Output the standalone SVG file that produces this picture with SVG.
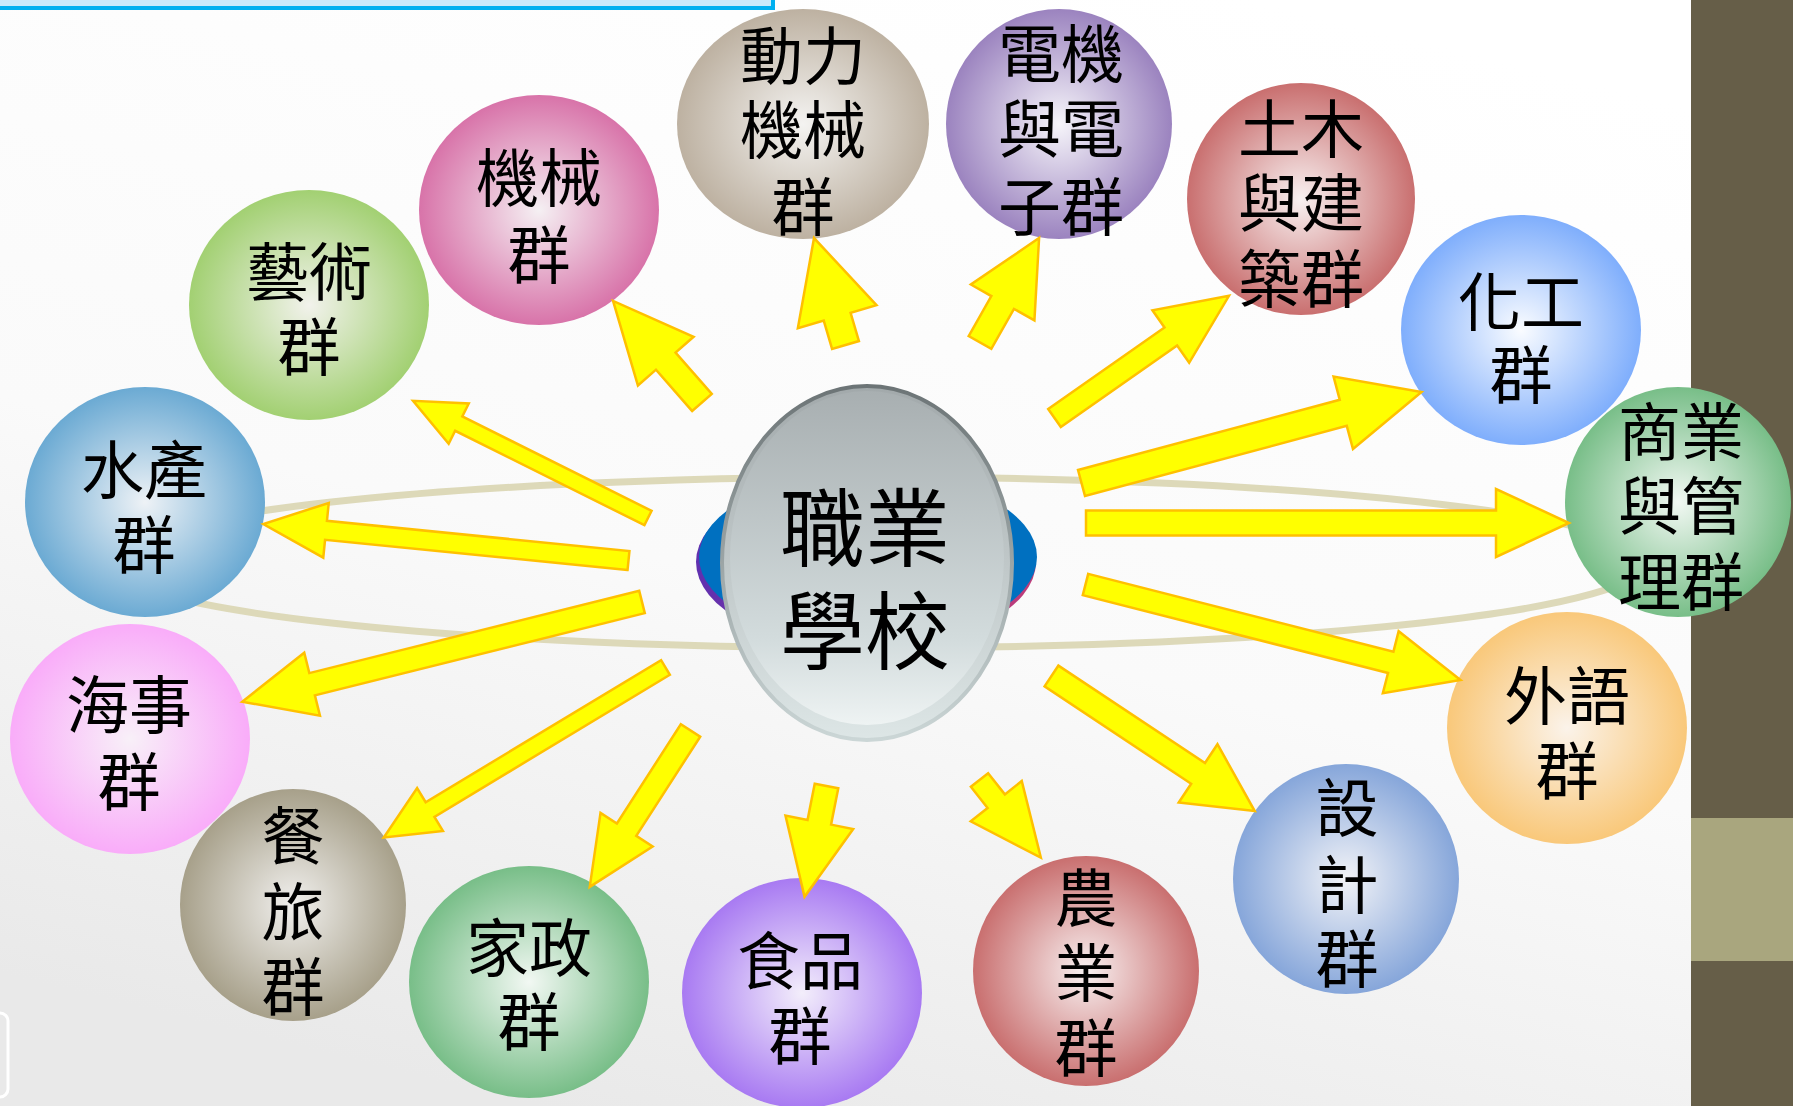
<svg xmlns="http://www.w3.org/2000/svg" width="1793" height="1106" viewBox="0 0 1793 1106">
<defs>
<linearGradient id="bg" x1="0.7" y1="0" x2="0.3" y2="1">
<stop offset="0" stop-color="#FFFFFF"/><stop offset="0.55" stop-color="#FAFAFA"/><stop offset="1" stop-color="#E9E9E9"/>
</linearGradient>
<radialGradient id="g-pink"><stop offset="0" stop-color="#F5F0F3"/><stop offset="1" stop-color="#D873A9"/></radialGradient>
<radialGradient id="g-taupe"><stop offset="0" stop-color="#F4F3F1"/><stop offset="1" stop-color="#BDB1A1"/></radialGradient>
<radialGradient id="g-purple"><stop offset="0" stop-color="#F6F5FA"/><stop offset="1" stop-color="#9B83BF"/></radialGradient>
<radialGradient id="g-red"><stop offset="0" stop-color="#F8F1F1"/><stop offset="1" stop-color="#C96F6F"/></radialGradient>
<radialGradient id="g-sky"><stop offset="0" stop-color="#FAFCFF"/><stop offset="1" stop-color="#7FAEFC"/></radialGradient>
<radialGradient id="g-green"><stop offset="0" stop-color="#F2F8F3"/><stop offset="1" stop-color="#78BE88"/></radialGradient>
<radialGradient id="g-orange"><stop offset="0" stop-color="#FBF3EA"/><stop offset="1" stop-color="#F9C87A"/></radialGradient>
<radialGradient id="g-blue"><stop offset="0" stop-color="#F2F3F7"/><stop offset="1" stop-color="#86A6DA"/></radialGradient>
<radialGradient id="g-violet"><stop offset="0" stop-color="#F3EEFB"/><stop offset="1" stop-color="#A87AF2"/></radialGradient>
<radialGradient id="g-olive"><stop offset="0" stop-color="#F1F0EE"/><stop offset="1" stop-color="#A7A08A"/></radialGradient>
<radialGradient id="g-magenta"><stop offset="0" stop-color="#F8F0F8"/><stop offset="1" stop-color="#F9ACF9"/></radialGradient>
<radialGradient id="g-steel"><stop offset="0" stop-color="#EEF2F6"/><stop offset="1" stop-color="#6BAAD3"/></radialGradient>
<radialGradient id="g-lime"><stop offset="0" stop-color="#F2F2EC"/><stop offset="1" stop-color="#A2D072"/></radialGradient>
<linearGradient id="c-fill" x1="0" y1="0" x2="0" y2="1"><stop offset="0" stop-color="#A2A9AB"/><stop offset="1" stop-color="#DDE6E6"/></linearGradient>
<linearGradient id="c-inner" x1="0" y1="0" x2="0" y2="1"><stop offset="0" stop-color="#A8AFB1"/><stop offset="0.75" stop-color="#D3DCDD"/><stop offset="1" stop-color="#EEF3F3"/></linearGradient>
<linearGradient id="c-stroke" x1="0" y1="0" x2="0" y2="1"><stop offset="0" stop-color="#6C7476"/><stop offset="1" stop-color="#CBD6D6"/></linearGradient>
<linearGradient id="c-rim" x1="0" y1="0" x2="1" y2="0"><stop offset="0" stop-color="#6030B0"/><stop offset="1" stop-color="#C03C78"/></linearGradient>
<style>
.node-text{font-family:"Noto Sans CJK TC","Noto Sans CJK SC",sans-serif;font-size:63px;fill:#000;text-anchor:middle}
.center-text{font-family:"Noto Sans CJK TC","Noto Sans CJK SC",sans-serif;font-size:85px;fill:#000;text-anchor:middle}
.arrow{fill:#FFFF00;stroke:#FFC000;stroke-width:2.5;stroke-linejoin:miter}
</style>
</defs>

<rect x="0" y="0" width="1793" height="1106" fill="url(#bg)"/>
<rect x="-5" y="-20" width="778" height="28" fill="#C8EAFB" stroke="#00B0F0" stroke-width="4"/>
<rect x="1691" y="0" width="102" height="1106" fill="#665E48"/>
<rect x="1691" y="818" width="102" height="143" fill="#A9A67E"/>
<rect x="-30" y="1013" width="38" height="84" rx="8" fill="none" stroke="#FFFFFF" stroke-width="3"/>

<ellipse id="orbit" cx="876" cy="562.5" rx="770" ry="85.5" fill="none" stroke="#DDD9B9" stroke-width="7"/>

<g id="center">
<ellipse cx="866" cy="562" rx="170" ry="86" fill="url(#c-rim)"/>
<ellipse cx="868" cy="557" rx="169" ry="84" fill="#0070C0"/>
<ellipse cx="867" cy="563" rx="145" ry="177" fill="url(#c-fill)" stroke="url(#c-stroke)" stroke-width="4"/>
<ellipse cx="867" cy="558" rx="137" ry="167" fill="url(#c-inner)"/>
<text class="center-text"><tspan x="865" y="560">職業</tspan><tspan x="865" y="663">學校</tspan></text>
</g>

<g id="n-jixie"><ellipse cx="539" cy="210" rx="120" ry="115" fill="url(#g-pink)"/>
<text class="node-text"><tspan x="539" y="201">機械</tspan><tspan x="539" y="278">群</tspan></text></g>

<g id="n-dongli"><ellipse cx="803" cy="124" rx="126" ry="115" fill="url(#g-taupe)"/>
<text class="node-text"><tspan x="803" y="79">動力</tspan><tspan x="803" y="153">機械</tspan><tspan x="803" y="230">群</tspan></text></g>

<g id="n-dianji"><ellipse cx="1059" cy="124" rx="113" ry="115" fill="url(#g-purple)"/>
<text class="node-text"><tspan x="1061" y="77">電機</tspan><tspan x="1061" y="152">與電</tspan><tspan x="1061" y="230">子群</tspan></text></g>

<g id="n-tumu"><ellipse cx="1301" cy="199" rx="114" ry="116" fill="url(#g-red)"/>
<text class="node-text"><tspan x="1301" y="152">土木</tspan><tspan x="1301" y="226">與建</tspan><tspan x="1301" y="302">築群</tspan></text></g>

<g id="n-huagong"><ellipse cx="1521" cy="330" rx="120" ry="115" fill="url(#g-sky)"/>
<text class="node-text"><tspan x="1521" y="325">化工</tspan><tspan x="1521" y="398">群</tspan></text></g>

<g id="n-shangye"><ellipse cx="1678" cy="502" rx="113" ry="115" fill="url(#g-green)"/>
<text class="node-text"><tspan x="1681" y="455">商業</tspan><tspan x="1681" y="529">與管</tspan><tspan x="1681" y="605">理群</tspan></text></g>

<g id="n-waiyu"><ellipse cx="1567" cy="728" rx="120" ry="116" fill="url(#g-orange)"/>
<text class="node-text"><tspan x="1567" y="719">外語</tspan><tspan x="1567" y="794">群</tspan></text></g>

<g id="n-sheji"><ellipse cx="1346" cy="879" rx="113" ry="115" fill="url(#g-blue)"/>
<text class="node-text"><tspan x="1347" y="831">設</tspan><tspan x="1347" y="908">計</tspan><tspan x="1347" y="982">群</tspan></text></g>

<g id="n-nongye"><ellipse cx="1086" cy="971" rx="113" ry="115" fill="url(#g-red)"/>
<text class="node-text"><tspan x="1086" y="921">農</tspan><tspan x="1086" y="996">業</tspan><tspan x="1086" y="1071">群</tspan></text></g>

<g id="n-shipin"><ellipse cx="802" cy="993" rx="120" ry="115" fill="url(#g-violet)"/>
<text class="node-text"><tspan x="800" y="984">食品</tspan><tspan x="800" y="1059">群</tspan></text></g>

<g id="n-jiazheng"><ellipse cx="529" cy="982" rx="120" ry="116" fill="url(#g-green)"/>
<text class="node-text"><tspan x="529" y="971">家政</tspan><tspan x="529" y="1045">群</tspan></text></g>

<g id="n-canlv"><ellipse cx="293" cy="905" rx="113" ry="116" fill="url(#g-olive)"/>
<text class="node-text"><tspan x="293" y="859">餐</tspan><tspan x="293" y="935">旅</tspan><tspan x="293" y="1010">群</tspan></text></g>

<g id="n-haishi"><ellipse cx="130" cy="739" rx="120" ry="115" fill="url(#g-magenta)"/>
<text class="node-text"><tspan x="129" y="728">海事</tspan><tspan x="129" y="805">群</tspan></text></g>

<g id="n-shuichan"><ellipse cx="145" cy="502" rx="120" ry="115" fill="url(#g-steel)"/>
<text class="node-text"><tspan x="144" y="493">水產</tspan><tspan x="144" y="568">群</tspan></text></g>

<g id="n-yishu"><ellipse cx="309" cy="305" rx="120" ry="115" fill="url(#g-lime)"/>
<text class="node-text"><tspan x="309" y="295">藝術</tspan><tspan x="309" y="370">群</tspan></text></g>

<g id="connectors">
<polygon class="arrow" transform="translate(702,402.5) rotate(228.8)" points="0,-13 55,-13 55,-37 135,0 55,37 55,13 0,13"/>
<polygon class="arrow" transform="translate(845.5,345) rotate(253.6)" points="0,-14 29.5,-14 29.5,-41 111.5,0 29.5,41 29.5,14 0,14"/>
<polygon class="arrow" transform="translate(980,342.5) rotate(-60.5)" points="0,-13 46,-13 46,-36.5 120,0 46,36.5 46,13 0,13"/>
<polygon class="arrow" transform="translate(1054.5,418) rotate(-35)" points="0,-11 142,-11 142,-32 213,0 142,32 142,11 0,11"/>
<polygon class="arrow" transform="translate(1081.5,483) rotate(-15)" points="0,-13.5 271,-13.5 271,-37.5 352,0 271,37.5 271,13.5 0,13.5"/>
<polygon class="arrow" transform="translate(1086,523)" points="0,-12.5 410,-12.5 410,-34 483,0 410,34 410,12.5 0,12.5"/>
<polygon class="arrow" transform="translate(1085.5,584.5) rotate(14.3)" points="0,-11 315,-11 315,-32 387,0 315,32 315,11 0,11"/>
<polygon class="arrow" transform="translate(1051.5,676) rotate(33.6)" points="0,-12.5 176,-12.5 176,-35 244,0 176,35 176,12.5 0,12.5"/>
<polygon class="arrow" transform="translate(979.5,780) rotate(51.7)" points="0,-11 27,-11 27,-32.5 99,0 27,32.5 27,11 0,11"/>
<polygon class="arrow" transform="translate(826.5,786) rotate(101.2)" points="0,-12 37,-12 37,-34.5 113,0 37,34.5 37,12 0,12"/>
<polygon class="arrow" transform="translate(690.5,730.5) rotate(122.8)" points="0,-11.5 118,-11.5 118,-31 186,0 118,31 118,11.5 0,11.5"/>
<polygon class="arrow" transform="translate(665.5,667.5) rotate(148.9)" points="0,-8.5 275,-8.5 275,-25 329,0 275,25 275,8.5 0,8.5"/>
<polygon class="arrow" transform="translate(642,602) rotate(166)" points="0,-11.5 340,-11.5 340,-32.5 412,0 340,32.5 340,11.5 0,11.5"/>
<polygon class="arrow" transform="translate(628.5,560.5) rotate(185.7)" points="0,-9.5 304,-9.5 304,-27.5 367,0 304,27.5 304,9.5 0,9.5"/>
<polygon class="arrow" transform="translate(648,518) rotate(206.5)" points="0,-8 211.5,-8 211.5,-22.5 262.5,0 211.5,22.5 211.5,8 0,8"/>
</g>
</svg>
